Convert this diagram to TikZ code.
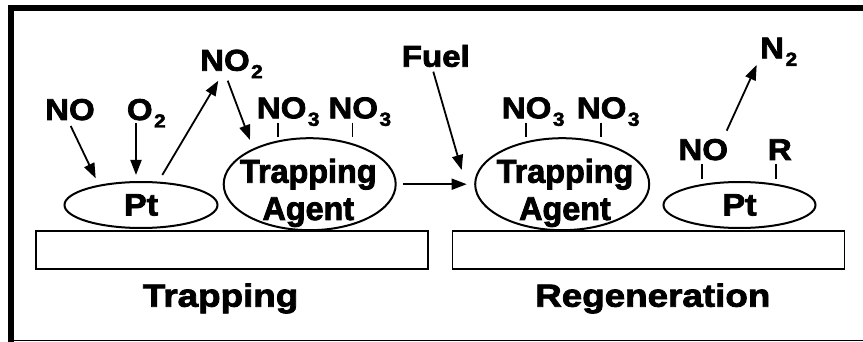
\documentclass[tikz,border=0pt]{standalone}
\usepackage{fontspec}
\setmainfont{Liberation Sans}[FakeBold=2]
\newfontfamily\lblfont{Liberation Sans}[FakeStretch=1.1,FakeBold=2.5]
\newfontfamily\capfont{Liberation Sans}[FakeStretch=1.15,FakeBold=2.5]
\newfontfamily\infont{Liberation Sans}[FakeStretch=0.98,FakeBold=2.5]
\usetikzlibrary{arrows.meta,shapes.geometric}
\newcommand{\sbs}[1]{\kern1.5pt\raisebox{-7.5pt}{\fontsize{19pt}{19pt}\selectfont #1}}
\begin{document}
\begin{tikzpicture}[x=1pt,y=-1pt,
  lbl/.style={inner sep=0pt, anchor=base west, font=\lblfont\bfseries\fontsize{30pt}{30pt}\selectfont},
  caplbl/.style={inner sep=0pt, anchor=base west, font=\capfont\bfseries\fontsize{32pt}{32pt}\selectfont},
  intext/.style={inner sep=0pt, anchor=base, font=\infont\bfseries\fontsize{33pt}{33pt}\selectfont},
  ell/.style={ellipse, draw, line width=2pt, inner sep=0pt, font=\lblfont\bfseries\fontsize{31pt}{31pt}\selectfont},
  subst/.style={draw, line width=1.5pt, inner sep=0pt, minimum width=392pt, minimum height=38pt},
  arr/.style={line width=1.8pt, -{Triangle[length=15pt,width=11pt]}},
  tick/.style={line width=1.6pt}]
\useasboundingbox (0,0) rectangle (863,342);
% frame
\fill (8,5) rectangle (863,11);
\fill (8,5) rectangle (14,342);
\draw[line width=1.5pt] (8,340.5) -- (863,340.5);
% substrates
\node[subst] (sub1) at (232,250) {};
\node[subst] (sub2) at (648.5,250) {};
% ellipses
\node[ell, minimum width=153pt, minimum height=46pt] (pt1) at (141,205) {Pt};
\node[ell, minimum width=172pt, minimum height=92pt] (ta1) at (309.7,184.2) {};
\node[ell, minimum width=174pt, minimum height=92pt] (ta2) at (562.2,184.2) {};
\node[ell, minimum width=152pt, minimum height=46pt] (pt2) at (739.5,205) {Pt};
\node[intext] (ta1a) at (308.3,182.7) {Trapping};
\node[intext] (ta1b) at (308.3,220) {Agent};
\node[intext] (ta2a) at (565,182.7) {Trapping};
\node[intext] (ta2b) at (565,220) {Agent};
% labels
\node[lbl] (no1) at (45,120) {NO};
\node[lbl] (o2) at (126.7,120) {O\sbs{2}};
\node[lbl] (no2) at (200,70.7) {NO\sbs{2}};
\node[lbl] (no3a) at (256.7,118.3) {NO\sbs{3}};
\node[lbl] (no3b) at (328.3,118.3) {NO\sbs{3}};
\node[lbl] (fuel) at (401.7,66.7) {Fuel};
\node[lbl] (no3c) at (501.7,118.3) {NO\sbs{3}};
\node[lbl] (no3d) at (576.7,118.3) {NO\sbs{3}};
\node[lbl] (no4) at (678.3,160) {NO};
\node[lbl] (r) at (767.7,160) {R};
\node[lbl] (n2) at (760,58.3) {N\sbs{2}};
\node[caplbl] (trap) at (142.7,306.7) {Trapping};
\node[caplbl] (regen) at (535,306.7) {Regeneration};
% ticks
\draw[tick] ([shift={(21,4.4)}]no3a.base west) -- ++(0,14);
\draw[tick] ([shift={(24,4.4)}]no3b.base west) -- ++(0,14);
\draw[tick] ([shift={(24,4.4)}]no3c.base west) -- ++(0,14);
\draw[tick] ([shift={(24,4.4)}]no3d.base west) -- ++(0,14);
\draw[tick] ([shift={(23.4,4)}]no4.base west) -- ++(0,15.3);
\draw[tick] ([shift={(8,4)}]r.base west) -- ++(0,15.3);
% arrows
\draw[arr] ([shift={(25.7,6)}]no1.base west) -- ([shift={(-45.3,-26.7)}]pt1.center);
\draw[arr] ([shift={(9.3,3.3)}]o2.base west) -- ([shift={(-5,-30)}]pt1.center);
\draw[arr] ([shift={(21.3,-30)}]pt1.center) -- ([shift={(18.3,10)}]no2.base west);
\draw[arr] ([shift={(27.7,10)}]no2.base west) -- ([shift={(-59.7,-44.2)}]ta1.center);
\draw[arr] ([shift={(93.6,0)}]ta1.center) -- ([shift={(-95.5,0)}]ta2.center);
\draw[arr] ([shift={(31.6,5)}]fuel.base west) -- ([shift={(-100.5,-14.2)}]ta2.center);
\draw[arr] ([shift={(48.4,-29.3)}]no4.base west) -- ([shift={(-3.3,6.7)}]n2.base west);
\end{tikzpicture}
\end{document}
